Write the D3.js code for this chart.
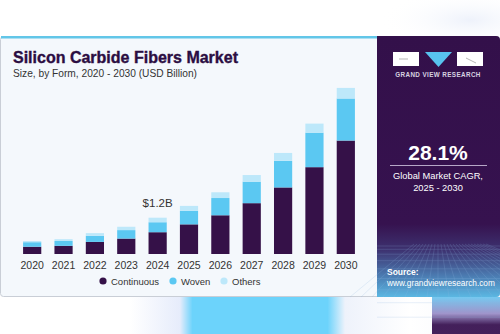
<!DOCTYPE html>
<html><head><meta charset="utf-8">
<script src="https://cdn.jsdelivr.net/npm/d3@7"></script>
<style>html,body{margin:0;padding:0;background:#fff;}svg{display:block;}</style>
</head><body>
<script>
const years = ["2020","2021","2022","2023","2024","2025","2026","2027","2028","2029","2030"];
const continuous = [0.24,0.27,0.40,0.51,0.72,0.98,1.28,1.68,2.20,2.87,3.75];
const woven      = [0.15,0.16,0.20,0.28,0.33,0.45,0.57,0.71,0.88,1.14,1.39];
const others     = [0.04,0.06,0.09,0.11,0.15,0.16,0.19,0.22,0.26,0.30,0.35];
const seriesNames = ["Continuous","Woven","Others"];
const colors = ["#351148","#5bc8f2","#bde8fa"];
const annotation = {year:"2024", label:"$1.2B"};

const W=500,H=334;
const svg=d3.select("body").append("svg").attr("width",W).attr("height",H);
const defs=svg.append("defs");

// bottom decoration
const g1=defs.append("linearGradient").attr("id","bottomDeco").attr("x1",0).attr("x2",1).attr("y1",0).attr("y2",0);
[[0,"#ffffff"],[0.26,"#ffffff"],[0.36,"#e6ecfb"],[0.385,"#6cd3fb"],[0.655,"#6cd3fb"],[0.69,"#eef2fb"],[0.82,"#ffffff"],[1,"#f4f6fb"]]
 .forEach(s=>g1.append("stop").attr("offset",s[0]).attr("stop-color",s[1]));
svg.append("rect").attr("x",0).attr("y",290).attr("width",W).attr("height",44).attr("fill","url(#bottomDeco)");
const g2=defs.append("linearGradient").attr("id","purpDeco").attr("x1",0).attr("x2",0).attr("y1",0).attr("y2",1);
g2.append("stop").attr("offset",0).attr("stop-color","#6fc6ef");
g2.append("stop").attr("offset",0.45).attr("stop-color","#9b8fc8");
g2.append("stop").attr("offset",0.75).attr("stop-color","#3a1452");
g2.append("stop").attr("offset",1).attr("stop-color","#3a1452");
svg.append("rect").attr("x",432).attr("y",297).attr("width",68).attr("height",37).attr("fill","url(#purpDeco)").attr("opacity",0.95);
// top right haze
const g3=defs.append("radialGradient").attr("id","haze");
g3.append("stop").attr("offset",0).attr("stop-color","#eef2fb");
g3.append("stop").attr("offset",1).attr("stop-color","#ffffff").attr("stop-opacity",0);
svg.append("ellipse").attr("cx",470).attr("cy",20).attr("rx",90).attr("ry",30).attr("fill","url(#haze)");

// card
svg.append("rect").attr("x",0.5).attr("y",36.5).attr("width",W-1).attr("height",260).attr("rx",3)
  .attr("fill","#f4f8fc").attr("stroke","#c9ced6");
svg.append("rect").attr("x",1).attr("y",36).attr("width",377).attr("height",2.5).attr("fill","#62c6e8");

// right panel
const pg=defs.append("linearGradient").attr("id","panel").attr("x1",0).attr("x2",0).attr("y1",0).attr("y2",1);
[[0,"#33104a"],[0.72,"#36124f"],[0.82,"#3d3270"],[0.92,"#4b7cb2"],[1,"#5bb7e2"]]
 .forEach(s=>pg.append("stop").attr("offset",s[0]).attr("stop-color",s[1]));
svg.append("path").attr("d","M377,36 H496 Q500,36 500,40 V293 Q500,297 496,297 H377 Z").attr("fill","url(#panel)");
// grid pattern in panel bottom
const grid=svg.append("g").attr("stroke","#8fb7e0").attr("stroke-width",0.5).attr("opacity",0.4);
for(let i=0;i<9;i++){const y=246+i*i*0.8+i*2.5; grid.append("line").attr("x1",377).attr("x2",500).attr("y1",y).attr("y2",y);}
for(let i=-8;i<=16;i++){grid.append("line").attr("x1",438+i*3).attr("y1",244).attr("x2",438+i*11).attr("y2",297);}

// logo
const logo=svg.append("g");
logo.append("rect").attr("x",393).attr("y",52).attr("width",26).attr("height",14).attr("fill","#ffffff");
logo.append("path").attr("d","M425,52 H452 L438.5,67 Z").attr("fill","#58c3ef");
logo.append("rect").attr("x",457).attr("y",52).attr("width",26).attr("height",14).attr("fill","#ffffff");
logo.append("path").attr("d","M399,59 H408 M466,58 L476,63").attr("stroke","#888").attr("stroke-width",0.6);
svg.append("text").attr("x",438).attr("y",77).attr("text-anchor","middle").attr("fill","#d8d3e0")
  .style("font-family","Liberation Sans, Arial").style("font-size","6.3px").style("font-weight","bold").style("letter-spacing","0.4px")
  .text("GRAND VIEW RESEARCH");

svg.append("text").attr("x",438).attr("y",160).attr("text-anchor","middle").attr("fill","#ffffff")
  .style("font-family","Liberation Sans, Arial").style("font-size","21px").style("font-weight","bold").text("28.1%");
svg.append("line").attr("x1",390).attr("x2",487).attr("y1",165.5).attr("y2",165.5).attr("stroke","#b7a8c8").attr("stroke-width",1.2);
svg.append("text").attr("x",438).attr("y",179).attr("text-anchor","middle").attr("fill","#ffffff")
  .style("font-family","Liberation Sans, Arial").style("font-size","9.3px").text("Global Market CAGR,");
svg.append("text").attr("x",438).attr("y",191).attr("text-anchor","middle").attr("fill","#ffffff")
  .style("font-family","Liberation Sans, Arial").style("font-size","9.3px").text("2025 - 2030");
svg.append("text").attr("x",387).attr("y",275).attr("fill","#ffffff")
  .style("font-family","Liberation Sans, Arial").style("font-size","8.5px").style("font-weight","bold").text("Source:");
svg.append("text").attr("x",387).attr("y",286).attr("fill","#ffffff")
  .style("font-family","Liberation Sans, Arial").style("font-size","8.3px").text("www.grandviewresearch.com");

// titles
svg.append("text").attr("x",13).attr("y",63).attr("fill","#2b0d42")
  .style("font-family","Liberation Sans, Arial").style("font-size","16px").style("font-weight","bold")
  .attr("stroke","#2b0d42").attr("stroke-width",0.35).text("Silicon Carbide Fibers Market");
svg.append("text").attr("x",13).attr("y",77).attr("fill","#333")
  .style("font-family","Liberation Sans, Arial").style("font-size","10.2px").text("Size, by Form, 2020 - 2030 (USD Billion)");

// chart
const data=years.map((y,i)=>({year:y,Continuous:continuous[i],Woven:woven[i],Others:others[i]}));
const stack=d3.stack().keys(seriesNames)(data);
const x=d3.scaleBand().domain(years).range([16.5,361.5]).paddingInner(0.42).paddingOuter(0.21);
const y=d3.scaleLinear().domain([0,5.5]).range([254,87.6]);
const color=d3.scaleOrdinal().domain(seriesNames).range(colors);

svg.append("g").selectAll("g").data(stack).join("g").attr("fill",d=>color(d.key))
  .selectAll("rect").data(d=>d).join("rect")
  .attr("x",d=>x(d.data.year)).attr("width",x.bandwidth())
  .attr("y",d=>y(d[1])).attr("height",d=>y(d[0])-y(d[1]));

const xAxis=svg.append("g").attr("transform","translate(0,254)").call(d3.axisBottom(x).tickSize(0).tickPadding(5));
xAxis.select(".domain").remove();
xAxis.selectAll("text").attr("fill","#333").style("font-family","Liberation Sans, Arial").style("font-size","10.5px").attr("dy","0.95em");

const ai=years.indexOf(annotation.year);
const tot=continuous[ai]+woven[ai]+others[ai];
svg.append("text").attr("x",x(annotation.year)+x.bandwidth()/2).attr("y",y(tot)-11).attr("text-anchor","middle")
  .attr("fill","#333").style("font-family","Liberation Sans, Arial").style("font-size","11.5px").text(annotation.label);

// legend
const legX=[103,173,224];
const leg=svg.append("g");
seriesNames.forEach((n,i)=>{
  leg.append("circle").attr("cx",legX[i]).attr("cy",281).attr("r",3.6).attr("fill",colors[i]);
  leg.append("text").attr("x",legX[i]+8).attr("y",284.5).attr("fill","#333")
    .style("font-family","Liberation Sans, Arial").style("font-size","9.5px").text(n);
});
</script>
</body></html>
